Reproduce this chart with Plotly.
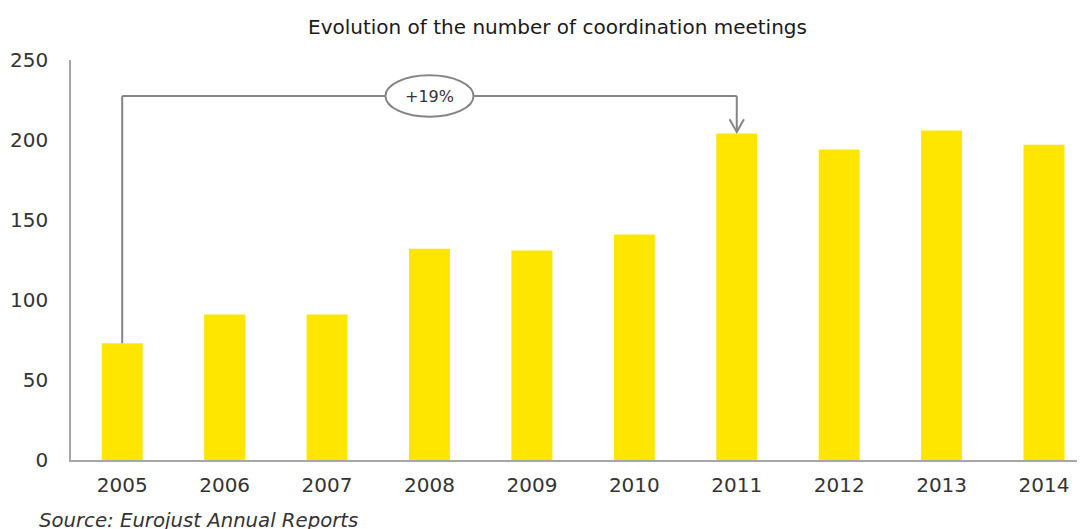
import plotly.graph_objects as go

years = ["2005", "2006", "2007", "2008", "2009", "2010", "2011", "2012", "2013", "2014"]
meetings = [73, 91, 91, 132, 131, 141, 204, 194, 206, 197]
y_ticks = [0, 50, 100, 150, 200, 250]
title_text = "Evolution of the number of coordination meetings"
source_text = "Source: Eurojust Annual Reports"
change_label = "+19%"

fig = go.Figure()
fig.add_trace(go.Bar(
    x=list(range(len(years))), y=meetings,
    marker=dict(color="#FFE600", line=dict(width=0)),
    width=0.4, hoverinfo="skip",
))

start_i, end_i = 0, 6
level = 227.5
line_col = "#858585"
fig.add_shape(type="line", xref="x", yref="y", x0=start_i, x1=start_i, y0=meetings[start_i], y1=level,
              line=dict(color=line_col, width=2))
fig.add_shape(type="line", xref="x", yref="y", x0=start_i, x1=end_i, y0=level, y1=level,
              line=dict(color=line_col, width=2))
fig.add_shape(type="line", xref="x", yref="y", x0=end_i, x1=end_i, y0=level, y1=meetings[end_i] + 1,
              line=dict(color=line_col, width=2))
# open arrowhead (V)
fig.add_shape(type="path", xref="x", yref="y",
              path=f"M {end_i-0.07},{meetings[end_i]+9} L {end_i},{meetings[end_i]+1} L {end_i+0.07},{meetings[end_i]+9}",
              line=dict(color=line_col, width=2))
cx = 3.0
fig.add_shape(type="circle", xref="x", yref="y", x0=cx - 0.43, x1=cx + 0.43, y0=level - 13, y1=level + 13,
              line=dict(color=line_col, width=2), fillcolor="white")
fig.add_annotation(x=cx, y=level, xref="x", yref="y", text=change_label, showarrow=False,
                   font=dict(family="DejaVu Sans", size=16, color="#333333"))

fig.add_annotation(x=0.48, y=1, xref="paper", yref="paper", yanchor="middle", yshift=33,
                   text=title_text, showarrow=False,
                   font=dict(family="DejaVu Sans", size=20, color="#1a1a1a"))
fig.add_annotation(x=-0.0335, y=0, xref="paper", yref="paper", xanchor="left", yanchor="middle",
                   yshift=-60, text=f"<i>{source_text}</i>", showarrow=False,
                   font=dict(family="DejaVu Sans", size=19.7, color="#333333"))

fig.update_layout(
    width=1077, height=521,
    margin=dict(l=63, r=0, t=52, b=69),
    plot_bgcolor="white", paper_bgcolor="white",
    showlegend=False,
    xaxis=dict(tickmode="array", tickvals=list(range(len(years))), ticktext=years,
               range=[-0.5, 9.4], showline=True, linecolor="#A6A6A6", linewidth=1.5,
               showgrid=False, ticks="outside", ticklen=6, tickcolor="rgba(0,0,0,0)",
               zeroline=False, automargin=False,
               tickfont=dict(family="DejaVu Sans", size=20, color="#333333")),
    yaxis=dict(tickmode="array", tickvals=y_ticks, range=[0, 250],
               showline=True, linecolor="#A6A6A6", linewidth=1.5,
               showgrid=False, ticks="outside", ticklen=17, tickcolor="rgba(0,0,0,0)",
               zeroline=False, automargin=False,
               tickfont=dict(family="DejaVu Sans", size=20, color="#333333")),
)
fig.write_html("out.html")
